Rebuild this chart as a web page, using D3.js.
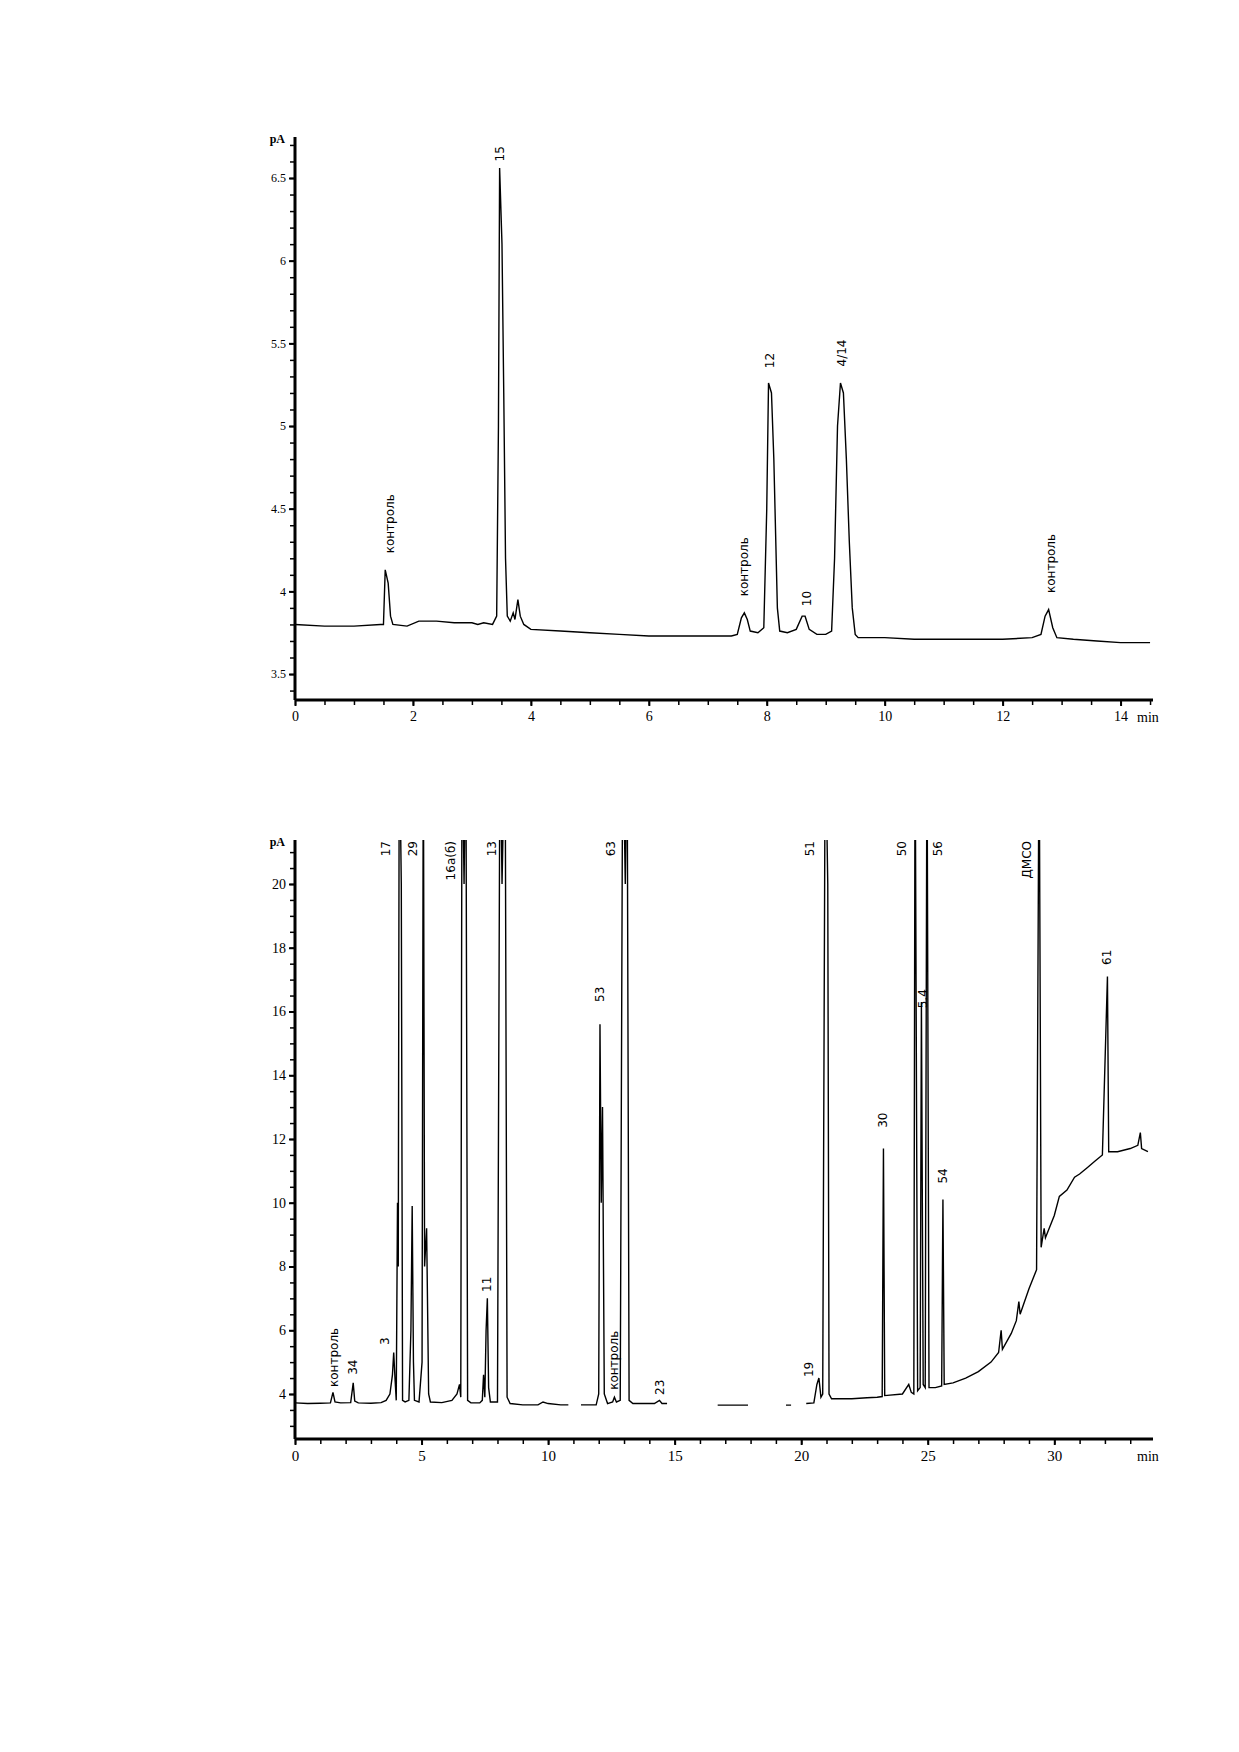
<!DOCTYPE html>
<html>
<head>
<meta charset="utf-8">
<script src="https://cdn.jsdelivr.net/npm/d3@7"></script>
<style>
  html, body { margin: 0; padding: 0; background: #fff; }
  svg { display: block; }
  text { font-family: "DejaVu Sans", "Liberation Sans", sans-serif; fill: #000; }
</style>
</head>
<body>
<svg id="chart" width="1239" height="1752"></svg>
<script>
// ---------- Top chromatogram (pA vs min) ----------
const topTime = [0.0,0.5,1.0,1.45,1.50,1.53,1.58,1.62,1.66,1.9,2.1,2.4,2.7,3.0,3.1,3.2,3.35,3.42,3.45,3.47,3.51,3.54,3.57,3.60,3.65,3.70,3.73,3.78,3.82,3.88,4.0,4.5,5.0,5.5,6.0,6.5,7.0,7.4,7.5,7.57,7.62,7.67,7.72,7.85,7.95,8.0,8.03,8.08,8.12,8.18,8.22,8.35,8.5,8.6,8.65,8.72,8.85,9.0,9.1,9.15,9.2,9.25,9.3,9.35,9.4,9.45,9.5,9.55,10.0,10.5,11.0,11.5,12.0,12.5,12.65,12.72,12.78,12.85,12.92,13.2,13.6,14.0,14.5];
const topSignal = [3.80,3.79,3.79,3.80,3.80,4.13,4.05,3.85,3.80,3.79,3.82,3.82,3.81,3.81,3.80,3.81,3.80,3.85,5.0,6.56,6.1,5.2,4.2,3.85,3.82,3.87,3.83,3.95,3.85,3.80,3.77,3.76,3.75,3.74,3.73,3.73,3.73,3.73,3.74,3.84,3.87,3.83,3.76,3.75,3.78,4.5,5.26,5.2,4.8,3.9,3.76,3.75,3.77,3.85,3.85,3.77,3.74,3.74,3.76,4.2,5.0,5.26,5.2,4.8,4.3,3.9,3.74,3.72,3.72,3.71,3.71,3.71,3.71,3.72,3.74,3.85,3.89,3.78,3.72,3.71,3.70,3.69,3.69];

const topXTicks = [0,2,4,6,8,10,12,14];
const topYTicks = [3.5,4,4.5,5,5.5,6,6.5];

const topLabelText  = ["контроль","15","контроль","12","10","4/14","контроль"];
const topLabelTime  = [1.61,3.47,7.61,8.05,8.68,9.28,12.82];
const topLabelValue = [4.23,6.60,3.97,5.35,3.91,5.36,3.99];

// ---------- Bottom chromatogram ----------
// null = gap in the recorded trace
const botTime = [0,0.5,1.0,1.4,1.5,1.58,1.8,2.2,2.3,2.36,2.5,3.0,3.4,3.6,3.75,3.85,3.9,3.95,4.0,4.05,4.08,4.12,4.2,4.25,4.35,4.5,4.58,4.63,4.68,4.72,4.9,5.02,5.07,5.12,5.2,5.28,5.35,5.8,6.2,6.4,6.5,6.55,6.6,6.68,6.75,6.82,6.95,7.3,7.4,7.45,7.5,7.55,7.6,7.65,7.72,8.0,8.1,8.18,8.3,8.38,8.5,9.0,9.6,9.8,10.0,10.5,10.8,
  null,
  11.3,11.9,12.0,12.05,12.1,12.15,12.22,12.35,12.55,12.62,12.7,12.85,12.95,13.05,13.12,13.2,13.35,14.2,14.4,14.5,14.7,
  null,
  16.7,17.9,
  null,
  19.4,19.6,
  null,
  20.2,20.5,20.62,20.7,20.78,20.85,20.95,21.05,21.1,21.2,22.0,22.6,23.0,23.2,23.25,23.3,24.0,24.25,24.35,24.45,24.5,24.6,24.7,24.75,24.82,24.9,24.97,25.05,25.3,25.55,25.6,25.65,26.0,26.5,27.0,27.5,27.8,27.9,27.95,28.3,28.5,28.6,28.65,29.0,29.3,29.4,29.48,29.6,29.65,30.0,30.2,30.5,30.8,31.0,31.3,31.6,31.9,32.1,32.15,32.5,33.0,33.3,33.4,33.45,33.7];
const botSignal = [3.72,3.70,3.71,3.72,4.05,3.75,3.72,3.73,4.35,3.78,3.72,3.71,3.73,3.80,4.0,4.6,5.3,4.5,3.8,10.0,8.0,25,20,3.8,3.75,3.8,6.0,9.9,5.0,3.8,3.75,5.0,25,8.0,9.2,4.0,3.75,3.73,3.80,4.0,4.3,3.9,25,20,25,3.8,3.72,3.72,3.8,4.6,3.9,6.0,7.0,4.2,3.75,3.75,25,20,25,3.9,3.70,3.66,3.66,3.75,3.70,3.66,3.66,
  null,
  3.66,3.66,4.0,15.6,10.0,13.0,4.0,3.70,3.75,3.9,3.75,3.8,25,20,25,3.8,3.70,3.70,3.80,3.70,3.70,
  null,
  3.65,3.65,
  null,
  3.65,3.65,
  null,
  3.70,3.72,4.3,4.5,3.9,4.0,25,20,4.0,3.85,3.85,3.88,3.90,3.92,11.7,3.95,4.0,4.3,4.05,4.0,25,4.1,4.2,16.3,4.3,4.2,25,4.2,4.2,4.25,10.1,4.3,4.35,4.5,4.7,5.0,5.3,6.0,5.4,5.9,6.3,6.9,6.5,7.3,7.9,25,8.6,9.2,8.9,9.6,10.2,10.4,10.8,10.9,11.1,11.3,11.5,17.1,11.6,11.6,11.7,11.8,12.2,11.7,11.6];

const botXTicks = [0,5,10,15,20,25,30];
const botYTicks = [4,6,8,10,12,14,16,18,20];

// null value = label hangs from the top of the plot (off-scale peak)
const botLabelText  = ["контроль","34","3","17","29","16а(б)","11","13","53","контроль","63","23","19","51","30","50","5.4","56","54","ДМСО","61"];
const botLabelTime  = [1.54,2.29,3.56,3.60,4.66,6.16,7.59,7.78,12.05,12.60,12.49,14.42,20.30,20.35,23.23,23.98,24.80,25.40,25.60,28.92,32.08];
const botLabelValue = [4.22,4.60,5.54,null,null,null,7.20,null,16.30,4.13,null,3.97,4.53,null,12.35,null,16.10,null,10.60,null,17.46];

// ---------- drawing ----------
const SERIF = '"Liberation Serif", "DejaVu Serif", serif';
const svg = d3.select("#chart");
svg.append("rect").attr("width",1239).attr("height",1752).attr("fill","#fff");

function drawPanel(cfg) {
  const g = svg.append("g");
  const x = d3.scaleLinear().domain(cfg.xDomain).range(cfg.xRange);
  const y = d3.scaleLinear().domain(cfg.yDomain).range(cfg.yRange);
  const [x0, x1] = cfg.xRange;
  const [yb, yt] = cfg.yRange;

  const clipId = "clip" + cfg.id;
  svg.append("clipPath").attr("id", clipId)
    .append("rect").attr("x", x0).attr("y", yt).attr("width", x1 - x0).attr("height", yb - yt);

  // minor ticks
  g.append("g").attr("transform", `translate(0,${yb})`)
    .call(d3.axisBottom(x).tickValues(d3.range(cfg.xDomain[0], cfg.xDomain[1], cfg.xMinor)).tickSize(5).tickFormat(""))
    .call(s => s.select(".domain").remove())
    .call(s => s.selectAll("line").attr("stroke-width", 1.5));
  g.append("g").attr("transform", `translate(${x0},0)`)
    .call(d3.axisLeft(y).tickValues(d3.range(cfg.yMinorStart, cfg.yDomain[1], cfg.yMinor)).tickSize(5).tickFormat(""))
    .call(s => s.select(".domain").remove())
    .call(s => s.selectAll("line").attr("stroke-width", 1.5));

  // major ticks + labels
  const xa = g.append("g").attr("transform", `translate(0,${yb})`)
    .call(d3.axisBottom(x).tickValues(cfg.xTicks).tickSize(6).tickSizeOuter(0).tickPadding(5).tickFormat(d3.format("")));
  xa.select(".domain").remove();
  xa.selectAll("line").attr("stroke-width", 2);
  xa.selectAll("text").style("font-size", cfg.xFont + "px").style("font-family", SERIF);

  const ya = g.append("g").attr("transform", `translate(${x0},0)`)
    .call(d3.axisLeft(y).tickValues(cfg.yTicks).tickSize(6).tickSizeOuter(0).tickPadding(3).tickFormat(d3.format("")));
  ya.select(".domain").remove();
  ya.selectAll("line").attr("stroke-width", 2);
  ya.selectAll("text").style("font-size", cfg.yFont + "px").style("font-family", SERIF);

  // axis lines
  g.append("line").attr("x1", x0).attr("x2", x1).attr("y1", yb).attr("y2", yb)
    .attr("stroke", "#000").attr("stroke-width", 3);
  g.append("line").attr("x1", x0).attr("x2", x0).attr("y1", yt).attr("y2", yb)
    .attr("stroke", "#000").attr("stroke-width", 3);

  // units
  g.append("text").attr("x", x0 - 10).attr("y", yt + 6).attr("text-anchor", "end")
    .style("font-size", "12px").style("font-weight", "bold").style("font-family", SERIF).text("pA");
  g.append("text").attr("x", x1 - 16).attr("y", yb + 22).attr("text-anchor", "start")
    .style("font-size", "14px").style("font-family", SERIF).text("min");

  // trace
  const pts = cfg.time.map((t, i) => [t, cfg.signal[i]]);
  const line = d3.line()
    .defined(d => d[0] !== null && d[1] !== null)
    .x(d => x(d[0])).y(d => y(d[1]));
  g.append("path").datum(pts)
    .attr("clip-path", `url(#${clipId})`)
    .attr("fill", "none").attr("stroke", "#000").attr("stroke-width", 1.4)
    .attr("stroke-linejoin", "miter").attr("d", line);

  // peak labels (rotated, reading upward)
  cfg.labelText.forEach((txt, i) => {
    const t = cfg.labelTime[i], v = cfg.labelValue[i];
    const px = x(t);
    const top = v === null;
    const py = top ? yt + 1 : y(v);
    g.append("text")
      .attr("transform", `translate(${px},${py}) rotate(-90)`)
      .attr("text-anchor", top ? "end" : "start")
      .attr("dy", "0.35em")
      .style("font-size", cfg.labelFont + "px")
      .text(txt);
  });
}

drawPanel({
  id: "top",
  xDomain: [0, 14.55], xRange: [295, 1153],
  yDomain: [3.343, 6.748], yRange: [700, 137],
  xTicks: topXTicks, yTicks: topYTicks,
  xMinor: 0.5, yMinor: 0.1, yMinorStart: 3.4,
  xFont: 14, yFont: 12, labelFont: 12,
  time: topTime, signal: topSignal,
  labelText: topLabelText, labelTime: topLabelTime, labelValue: topLabelValue
});

drawPanel({
  id: "bot",
  xDomain: [0, 33.9], xRange: [295, 1153],
  yDomain: [2.588, 21.38], yRange: [1439, 840],
  xTicks: botXTicks, yTicks: botYTicks,
  xMinor: 1, yMinor: 0.5, yMinorStart: 3,
  xFont: 15, yFont: 14, labelFont: 12,
  time: botTime, signal: botSignal,
  labelText: botLabelText, labelTime: botLabelTime, labelValue: botLabelValue
});
</script>
</body>
</html>
